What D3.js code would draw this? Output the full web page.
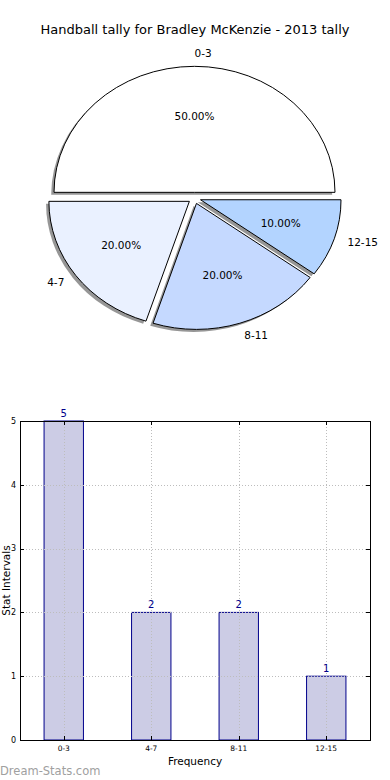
<!DOCTYPE html>
<html>
<head>
<meta charset="utf-8">
<script src="https://cdn.jsdelivr.net/npm/d3@7"></script>
<style>
  html, body { margin: 0; padding: 0; background: #fff; }
  svg { display: block; font-family: "DejaVu Sans", sans-serif; }
</style>
</head>
<body>
<div id="chart"></div>
<script>
/* data */
const categories = ['0-3', '4-7', '8-11', '12-15'];
const counts = [5, 2, 2, 1];
const sliceColors = ['#ffffff', '#eaf1ff', '#c5d9ff', '#b3d4ff'];
const yTicks = [0, 1, 2, 3, 4, 5];
const title = 'Handball tally for Bradley McKenzie - 2013 tally';

const W = 390, H = 780;
const svg = d3.select('#chart').append('svg').attr('width', W).attr('height', H);

svg.append('text').attr('x', 195).attr('y', 34).attr('text-anchor', 'middle')
  .style('font-size', '13px').style('fill', '#000').text(title);

/* ---- pie (elliptical, exploded, with shadow) ---- */
const cx = 194.5, cy = 198, rx = 140.5, ry = 126, explode = 0.045;
const total = d3.sum(counts);
// d3 angle a -> unit point (sin a, -cos a); start at 3 o'clock going counterclockwise
const pie = d3.pie().sort(null).startAngle(Math.PI / 2).endAngle(Math.PI / 2 - 2 * Math.PI);
const arcs = pie(counts);
const arc = d3.arc().innerRadius(0).outerRadius(1);

arcs.forEach(d => {
  d.mid = (d.startAngle + d.endAngle) / 2;
  d.ux = Math.sin(d.mid); d.uy = -Math.cos(d.mid);
  d.ox = cx + explode * rx * d.ux;
  d.oy = cy + explode * ry * d.uy;
});

const pieG = svg.append('g');
// shadows first, under every wedge
pieG.selectAll('path.shadow').data(arcs).join('path')
  .attr('class', 'shadow')
  .attr('d', arc)
  .attr('transform', d => `translate(${d.ox - 0.02 * rx},${d.oy + 0.02 * ry}) scale(${rx},${ry})`)
  .attr('fill', '#969696');

pieG.selectAll('path.wedge').data(arcs).join('path')
  .attr('class', 'wedge')
  .attr('d', arc)
  .attr('transform', d => `translate(${d.ox},${d.oy}) scale(${rx},${ry})`)
  .attr('fill', (d, i) => sliceColors[i])
  .attr('stroke', '#000').attr('stroke-width', 1)
  .attr('vector-effect', 'non-scaling-stroke')
  .attr('stroke-linejoin', 'round');

// outer labels
pieG.selectAll('text.lbl').data(arcs).join('text')
  .attr('class', 'lbl')
  .attr('x', d => d.ox + 1.1 * rx * d.ux)
  .attr('y', d => d.oy + 1.1 * ry * d.uy)
  .attr('dy', '0.35em')
  .attr('text-anchor', d => d.ux >= -1e-9 ? 'start' : 'end')
  .style('font-size', '10.5px')
  .text((d, i) => categories[i]);

// percentages
pieG.selectAll('text.pct').data(arcs).join('text')
  .attr('class', 'pct')
  .attr('x', d => d.ox + 0.6 * rx * d.ux)
  .attr('y', d => d.oy + 0.6 * ry * d.uy)
  .attr('dy', '0.35em')
  .attr('text-anchor', 'middle')
  .style('font-size', '10.5px')
  .text(d => (d.value / total * 100).toFixed(2) + '%');

/* ---- bar chart ---- */
const m = { left: 20, right: 370, top: 421, bottom: 740 };
const x = d3.scaleBand().domain(categories).range([m.left, m.right]).paddingInner(0.55).paddingOuter(0.275);
const y = d3.scaleLinear().domain([0, 5]).range([m.bottom, m.top]);
const xc = c => x(c) + x.bandwidth() / 2;

const barG = svg.append('g');
barG.selectAll('rect').data(counts).join('rect')
  .attr('x', (d, i) => x(categories[i]))
  .attr('y', d => y(d))
  .attr('width', x.bandwidth())
  .attr('height', d => y(0) - y(d))
  .attr('fill', '#ccccE5')
  .attr('stroke', '#00008b').attr('stroke-width', 1);

// grid (drawn over bars)
const grid = svg.append('g').attr('stroke', '#bdbdbd').attr('stroke-dasharray', '1,2').attr('stroke-width', 1);
grid.selectAll('line.h').data(yTicks.slice(1, -1)).join('line').attr('class', 'h')
  .attr('x1', m.left).attr('x2', m.right)
  .attr('y1', d => Math.round(y(d)) + 0.5).attr('y2', d => Math.round(y(d)) + 0.5);
grid.selectAll('line.v').data(categories).join('line').attr('class', 'v')
  .attr('x1', d => Math.round(xc(d)) + 0.5).attr('x2', d => Math.round(xc(d)) + 0.5)
  .attr('y1', m.top).attr('y2', m.bottom);

// frame
svg.append('rect').attr('x', m.left + 0.5).attr('y', m.top + 0.5)
  .attr('width', m.right - m.left).attr('height', m.bottom - m.top)
  .attr('fill', 'none').attr('stroke', '#000').attr('stroke-width', 1);

// inward ticks on all four sides
const ticks = svg.append('g').attr('stroke', '#000').attr('stroke-width', 1);
yTicks.forEach(t => {
  const yy = Math.round(y(t)) + 0.5;
  ticks.append('line').attr('x1', m.left).attr('x2', m.left + 4).attr('y1', yy).attr('y2', yy);
  ticks.append('line').attr('x1', m.right - 4).attr('x2', m.right).attr('y1', yy).attr('y2', yy);
});
categories.forEach(c => {
  const xx = Math.round(xc(c)) + 0.5;
  ticks.append('line').attr('x1', xx).attr('x2', xx).attr('y1', m.bottom).attr('y2', m.bottom - 4);
  ticks.append('line').attr('x1', xx).attr('x2', xx).attr('y1', m.top).attr('y2', m.top + 4);
});

// tick labels
svg.append('g').selectAll('text').data(yTicks).join('text')
  .attr('x', 16).attr('y', d => y(d)).attr('dy', '0.35em')
  .attr('text-anchor', 'end').style('font-size', '8px').text(d => d);
svg.append('g').selectAll('text').data(categories).join('text')
  .attr('x', d => xc(d)).attr('y', 751)
  .attr('text-anchor', 'middle').style('font-size', '7.5px').text(d => d);

// value labels
svg.append('g').selectAll('text').data(counts).join('text')
  .attr('x', (d, i) => xc(categories[i])).attr('y', d => y(d) - 4)
  .attr('text-anchor', 'middle').style('font-size', '10px').style('fill', '#00008b')
  .text(d => d);

// axis titles
svg.append('text').attr('x', 195).attr('y', 765).attr('text-anchor', 'middle')
  .style('font-size', '10.5px').text('Frequency');
svg.append('text').attr('transform', `translate(10,${(m.top + m.bottom) / 2}) rotate(-90)`)
  .attr('text-anchor', 'middle').style('font-size', '10.5px').text('Stat Intervals');

// watermark
svg.append('text').attr('x', 0).attr('y', 775)
  .style('font-size', '11.5px').style('fill', '#a0a0a0')
  .text('Dream-Stats.com');
</script>
</body>
</html>
